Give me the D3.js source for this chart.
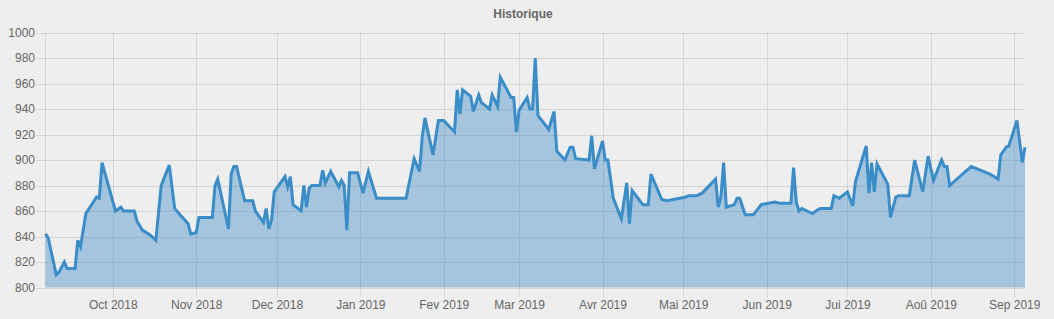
<!DOCTYPE html>
<html>
<head>
<meta charset="utf-8">
<script src="https://cdn.jsdelivr.net/npm/d3@7"></script>
<style>
  body { margin: 0; background: #eeeeee; }
  svg { display: block; font-family: "Liberation Sans", Arial, Helvetica, sans-serif; }
  .grid line { stroke: rgba(0,0,0,0.1); shape-rendering: crispEdges; }
  .grid text { fill: #666; font-size: 12px; }
</style>
</head>
<body>
<svg id="chart" width="1054" height="319"></svg>
<script>
// -- data --
var dates = [
  "2018-09-06","2018-09-07","2018-09-10","2018-09-11","2018-09-13","2018-09-14","2018-09-17","2018-09-18","2018-09-19","2018-09-21","2018-09-25","2018-09-26","2018-09-27",
  "2018-10-02","2018-10-04","2018-10-05","2018-10-09","2018-10-10","2018-10-12","2018-10-15","2018-10-16","2018-10-17","2018-10-19","2018-10-22","2018-10-24","2018-10-26","2018-10-29","2018-10-30",
  "2018-11-01","2018-11-02","2018-11-07","2018-11-08","2018-11-09","2018-11-13","2018-11-14","2018-11-15","2018-11-16","2018-11-19","2018-11-22","2018-11-23","2018-11-26","2018-11-27","2018-11-28","2018-11-29","2018-11-30",
  "2018-12-04","2018-12-05","2018-12-06","2018-12-07","2018-12-10","2018-12-11","2018-12-12","2018-12-13","2018-12-14","2018-12-17","2018-12-18","2018-12-19","2018-12-21","2018-12-24","2018-12-25","2018-12-26","2018-12-27","2018-12-28","2018-12-31",
  "2019-01-02","2019-01-04","2019-01-07","2019-01-10","2019-01-18","2019-01-21","2019-01-23","2019-01-24","2019-01-25","2019-01-28","2019-01-30",
  "2019-02-01","2019-02-05","2019-02-06","2019-02-07","2019-02-08","2019-02-11","2019-02-12","2019-02-14","2019-02-15","2019-02-18","2019-02-19","2019-02-21","2019-02-22","2019-02-26","2019-02-27","2019-02-28",
  "2019-03-01","2019-03-04","2019-03-05","2019-03-06","2019-03-07","2019-03-08","2019-03-12","2019-03-14","2019-03-15","2019-03-18","2019-03-20","2019-03-21","2019-03-22","2019-03-27","2019-03-28","2019-03-29",
  "2019-04-01","2019-04-02","2019-04-03","2019-04-05","2019-04-08","2019-04-10","2019-04-11","2019-04-12","2019-04-16","2019-04-18","2019-04-19","2019-04-23","2019-04-25",
  "2019-05-02","2019-05-03","2019-05-06","2019-05-08","2019-05-13","2019-05-14","2019-05-15","2019-05-16","2019-05-17","2019-05-20","2019-05-21","2019-05-22","2019-05-24","2019-05-27","2019-05-30",
  "2019-06-04","2019-06-06","2019-06-10","2019-06-11","2019-06-12","2019-06-13","2019-06-14","2019-06-18","2019-06-20","2019-06-21","2019-06-25","2019-06-26","2019-06-28",
  "2019-07-01","2019-07-03","2019-07-04","2019-07-08","2019-07-09","2019-07-10","2019-07-11","2019-07-12","2019-07-16","2019-07-17","2019-07-19","2019-07-20","2019-07-24","2019-07-26","2019-07-29","2019-07-31",
  "2019-08-02","2019-08-05","2019-08-06","2019-08-07","2019-08-08","2019-08-16","2019-08-23","2019-08-26","2019-08-27","2019-08-28","2019-08-29","2019-08-30",
  "2019-09-02","2019-09-04","2019-09-05"
];
var values = [
  842,839,810,812,820,815,815,837,832,858,871,870,898,
  860,863,860,860,852,845,841,839,837,880,896,862,857,850,842,
  843,855,855,880,885,846,889,895,895,868,868,860,851,862,846,853,875,
  887,879,887,865,860,880,863,878,880,880,892,882,891,879,884,880,845,890,890,
  874,891,870,870,870,901,891,918,933,904,931,
  931,922,955,936,955,950,938,951,945,940,951,942,965,949,949,922,
  939,949,940,940,980,935,924,938,907,900,910,910,901,900,919,893,
  915,900,900,870,854,882,850,876,865,865,889,869,868,
  871,872,872,874,885,863,871,898,863,865,870,870,857,857,865,
  867,866,866,894,867,860,862,858,861,862,862,872,870,
  875,864,883,911,874,898,875,897,881,855,871,872,872,900,875,903,
  884,900,895,895,880,895,889,885,904,907,910,911,
  931,898,910
];
var yTicks = [800, 820, 840, 860, 880, 900, 920, 940, 960, 980, 1000];
var monthTicks = ["2018-10-01","2018-11-01","2018-12-01","2019-01-01","2019-02-01","2019-03-01",
                  "2019-04-01","2019-05-01","2019-06-01","2019-07-01","2019-08-01","2019-09-01"];
var monthLabels = ["Oct 2018","Nov 2018","Dec 2018","Jan 2019","Fev 2019","Mar 2019",
                   "Avr 2019","Mai 2019","Jun 2019","Jui 2019","Aoû 2019","Sep 2019"];
var chartTitle = "Historique";

(function() {
  var parse = d3.timeParse("%Y-%m-%d");
  var data = dates.map(function(d, i) { return {date: parse(d), value: values[i]}; });
  var tickDates = monthTicks.map(parse);

  var x0 = 45.5, x1 = 1025, y0 = 32.5, y1 = 287.5;

  var svg = d3.select("#chart");

  var x = d3.scaleTime()
      .domain(d3.extent(data, function(d) { return d.date; }))
      .range([x0, x1]);

  var y = d3.scaleLinear()
      .domain([800, 1000])
      .range([y1, y0]);

  // title
  svg.append("text")
      .attr("x", 523)
      .attr("y", 18)
      .attr("text-anchor", "middle")
      .attr("fill", "#666")
      .style("font-size", "12px")
      .style("font-weight", "bold")
      .text(chartTitle);

  // horizontal grid + y labels
  var yAxis = svg.append("g")
      .attr("class", "grid")
      .attr("transform", "translate(36,0)")
      .call(d3.axisLeft(y)
          .tickValues(yTicks)
          .tickSize(-(x1 - 36))
          .tickPadding(1)
          .tickFormat(d3.format("d")));
  yAxis.select(".domain").remove();

  // vertical grid + x labels
  var xAxis = svg.append("g")
      .attr("class", "grid")
      .attr("transform", "translate(0,297)")
      .call(d3.axisBottom(x)
          .tickValues(tickDates)
          .tickSize(-(297 - y0))
          .tickPadding(3)
          .tickFormat(function(d, i) { return monthLabels[i]; }));
  xAxis.select(".domain").remove();

  // left border of the plot
  svg.append("line")
      .attr("x1", x0).attr("x2", x0)
      .attr("y1", y0).attr("y2", y1)
      .attr("stroke", "rgba(0,0,0,0.1)")
      .attr("shape-rendering", "crispEdges");

  var area = d3.area()
      .x(function(d) { return x(d.date); })
      .y0(y(800))
      .y1(function(d) { return y(d.value); });

  var line = d3.line()
      .x(function(d) { return x(d.date); })
      .y(function(d) { return y(d.value); });

  svg.append("path")
      .datum(data)
      .attr("fill", "rgba(54,135,200,0.4)")
      .attr("d", area);

  svg.append("path")
      .datum(data)
      .attr("fill", "none")
      .attr("stroke", "#3a8dc7")
      .attr("stroke-width", 3)
      .attr("stroke-linejoin", "miter")
      .attr("d", line);
})();
</script>
</body>
</html>
